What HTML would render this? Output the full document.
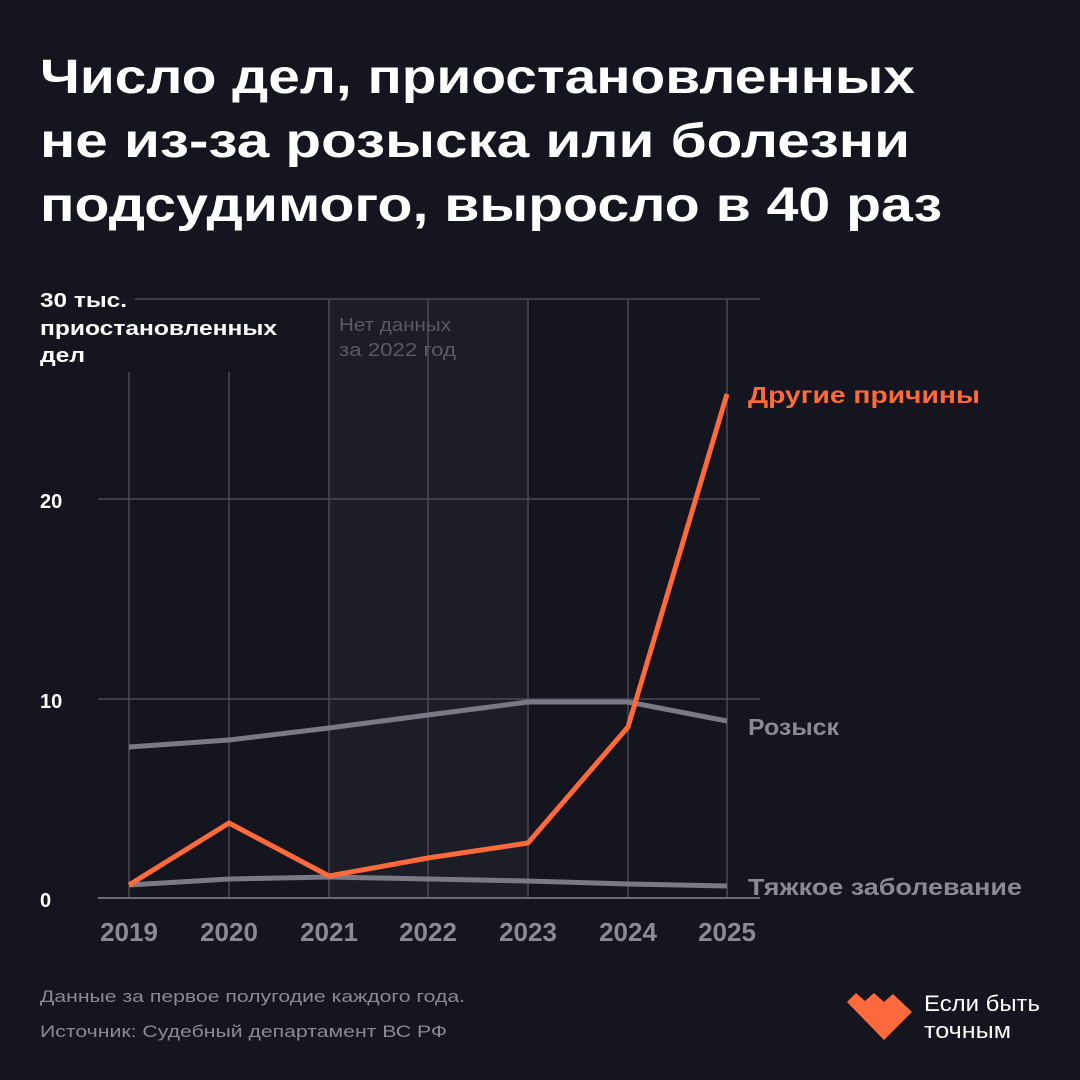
<!DOCTYPE html>
<html><head><meta charset="utf-8"><style>
body{margin:0;background:#15151f;}
svg{display:block}
text{font-family:"Liberation Sans","DejaVu Sans",sans-serif}
</style></head><body>
<svg width="1080" height="1080" viewBox="0 0 1080 1080">
<rect width="1080" height="1080" fill="#15151f"/>
<g font-weight="bold" font-size="48" fill="#fff" lengthAdjust="spacingAndGlyphs">
<text x="40" y="93" textLength="875" lengthAdjust="spacingAndGlyphs">Число дел, приостановленных</text>
<text x="40" y="157" textLength="870" lengthAdjust="spacingAndGlyphs">не из-за розыска или болезни</text>
<text x="40" y="221" textLength="902" lengthAdjust="spacingAndGlyphs">подсудимого, выросло в 40 раз</text>
</g>
<rect x="329" y="299" width="198" height="599" fill="#1d1d28"/>
<g stroke="#4a4a56" stroke-width="1.5">
<line x1="135" y1="299" x2="760" y2="299"/>
<line x1="98" y1="499" x2="760" y2="499"/>
<line x1="98" y1="699" x2="760" y2="699"/>
<line x1="129" y1="372" x2="129" y2="898"/>
<line x1="229" y1="372" x2="229" y2="898"/>
<line x1="329" y1="299" x2="329" y2="898"/>
<line x1="428" y1="299" x2="428" y2="898"/>
<line x1="528" y1="299" x2="528" y2="898"/>
<line x1="628" y1="299" x2="628" y2="898"/>
<line x1="727" y1="299" x2="727" y2="898"/>
</g>
<line x1="98" y1="898" x2="760" y2="898" stroke="#6a6a76" stroke-width="2"/>
<g font-size="20" font-weight="bold" fill="#fff">
<text x="40" y="307" textLength="87" lengthAdjust="spacingAndGlyphs">30 тыс.</text>
<text x="40" y="335" textLength="237" lengthAdjust="spacingAndGlyphs">приостановленных</text>
<text x="40" y="362" textLength="45" lengthAdjust="spacingAndGlyphs">дел</text>
<text x="40" y="508">20</text>
<text x="40" y="708">10</text>
<text x="40" y="907">0</text>
</g>
<g font-size="18" fill="#5a5a66">
<text x="339" y="331" textLength="112" lengthAdjust="spacingAndGlyphs">Нет данных</text>
<text x="339" y="356" textLength="117" lengthAdjust="spacingAndGlyphs">за 2022 год</text>
</g>
<g font-size="26" font-weight="bold" fill="#8a8a96" text-anchor="middle">
<text x="129" y="941">2019</text><text x="229" y="941">2020</text><text x="329" y="941">2021</text><text x="428" y="941">2022</text><text x="528" y="941">2023</text><text x="628" y="941">2024</text><text x="727" y="941">2025</text>
</g>
<g fill="none" stroke-width="5" stroke-linejoin="round">
<polyline stroke="#7a7a86" points="129,747 229,740 329,728 428,715 528,702 628,702 727,721"/>
<polyline stroke="#7a7a86" points="129,885 229,879 329,877 428,879 528,881 628,884 727,886"/>
<polyline stroke="#ff6a3d" points="129,885 229,823 329,876 428,858 528,843 628,727 727,394"/>
</g>
<text x="748" y="403" font-size="23" font-weight="bold" fill="#ff6a3d" textLength="232" lengthAdjust="spacingAndGlyphs">Другие причины</text>
<text x="748" y="735" font-size="23" font-weight="bold" fill="#8a8a96" textLength="91" lengthAdjust="spacingAndGlyphs">Розыск</text>
<text x="748" y="895" font-size="23" font-weight="bold" fill="#8a8a96" textLength="274" lengthAdjust="spacingAndGlyphs">Тяжкое заболевание</text>
<g font-size="17" fill="#8a8a96">
<text x="40" y="1002" textLength="425" lengthAdjust="spacingAndGlyphs">Данные за первое полугодие каждого года.</text>
<text x="40" y="1037" textLength="407" lengthAdjust="spacingAndGlyphs">Источник: Судебный департамент ВС РФ</text>
</g>
<polygon fill="#ff6a3d" points="847,1002 856,993 865,1001 874,993 884,1002 893,994 912,1012 884,1040"/>
<text x="924" y="1011" font-size="22" fill="#fff" textLength="116" lengthAdjust="spacingAndGlyphs">Если быть</text>
<text x="924" y="1038" font-size="22" fill="#fff" textLength="87" lengthAdjust="spacingAndGlyphs">точным</text>
</svg>
</body></html>
